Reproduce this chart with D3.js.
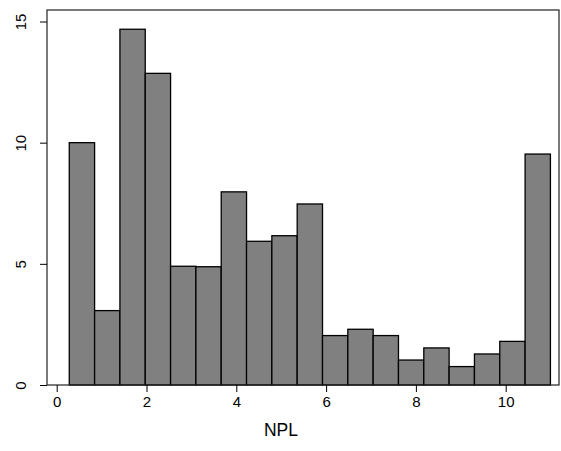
<!DOCTYPE html>
<html>
<head>
<meta charset="utf-8">
<script src="https://cdn.jsdelivr.net/npm/d3@7"></script>
<style>
  html, body { margin: 0; padding: 0; background: #fff; }
  svg { display: block; font-family: "Liberation Sans", Arial, sans-serif; }
</style>
</head>
<body>
<svg id="chart" width="561" height="451"></svg>
<script>
// Histogram bin edges (NPL)
const binEdges = [0.28, 0.844, 1.408, 1.972, 2.536, 3.10, 3.664, 4.228, 4.792, 5.356,
                  5.92, 6.484, 7.048, 7.612, 8.176, 8.74, 9.304, 9.868, 10.432, 10.996];
// Percent in each bin
const binPercent = [10.0, 3.07, 14.68, 12.86, 4.90, 4.88, 7.97, 5.93, 6.16, 7.47,
                    2.04, 2.30, 2.04, 1.03, 1.53, 0.76, 1.28, 1.80, 9.53];
const xTicks = [0, 2, 4, 6, 8, 10];
const yTicks = [0, 5, 10, 15];
const xTitle = "NPL";

const svg = d3.select("#chart");
const frame = { left: 47, top: 10, right: 559, bottom: 385 };

const x = d3.scaleLinear().domain([0, 10]).range([56.7, 505.7]);
const y = d3.scaleLinear().domain([0, 15]).range([385, 21.5]);

const bins = binPercent.map((v, i) => ({ x0: binEdges[i], x1: binEdges[i + 1], v }));

// bars
svg.append("g").selectAll("rect").data(bins).join("rect")
  .attr("x", d => x(d.x0))
  .attr("y", d => y(d.v))
  .attr("width", d => x(d.x1) - x(d.x0))
  .attr("height", d => y(0) - y(d.v))
  .attr("fill", "#808080")
  .attr("stroke", "#000")
  .attr("stroke-width", 1.3);

// plot frame
svg.append("rect")
  .attr("x", frame.left).attr("y", frame.top)
  .attr("width", frame.right - frame.left)
  .attr("height", frame.bottom - frame.top)
  .attr("fill", "none")
  .attr("stroke", "#222")
  .attr("stroke-width", 1.2);

// x axis
const xAxis = d3.axisBottom(x).tickValues(xTicks).tickSize(7).tickPadding(4).tickFormat(d3.format("d"));
const gx = svg.append("g").attr("transform", `translate(0,${frame.bottom})`).call(xAxis);
gx.select(".domain").remove();
gx.selectAll(".tick line").attr("stroke", "#000").attr("stroke-width", 1);
gx.selectAll(".tick text").attr("font-size", 15).attr("fill", "#000")
  .attr("font-family", "Liberation Sans, Arial, sans-serif");

// y axis
const yAxis = d3.axisLeft(y).tickValues(yTicks).tickSize(7).tickPadding(0).tickFormat(d3.format("d"));
const gy = svg.append("g").attr("transform", `translate(${frame.left},0)`).call(yAxis);
gy.select(".domain").remove();
gy.selectAll(".tick line").attr("stroke", "#000").attr("stroke-width", 1);
gy.selectAll(".tick text")
  .attr("font-size", 15).attr("fill", "#000")
  .attr("font-family", "Liberation Sans, Arial, sans-serif")
  .attr("x", null).attr("dy", null)
  .attr("text-anchor", "middle")
  .attr("transform", "translate(-26,0) rotate(-90)")
  .attr("dy", "0.36em");

// x title
svg.append("text")
  .attr("x", 281).attr("y", 436)
  .attr("text-anchor", "middle")
  .attr("font-size", 17.5)
  .attr("fill", "#000")
  .text(xTitle);
</script>
</body>
</html>
